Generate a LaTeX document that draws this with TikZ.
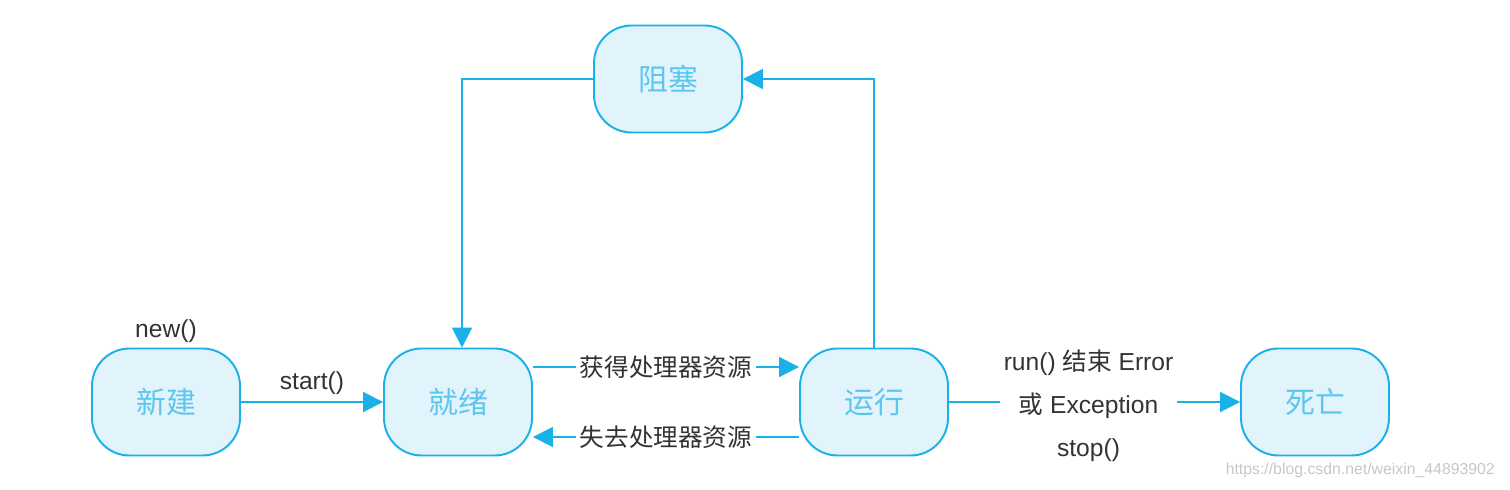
\documentclass[tikz,border=0pt]{standalone}
\usepackage{fontspec}
\setmainfont{Liberation Sans}
\newfontfamily\cjk{Noto Sans CJK SC}
\usetikzlibrary{arrows.meta}
\definecolor{stline}{HTML}{1AB0E8}
\definecolor{stfill}{HTML}{E1F3FB}
\definecolor{sttext}{HTML}{5CC6EF}
\definecolor{lbtext}{HTML}{333333}

\begin{document}
\begin{tikzpicture}[
  state/.style={draw=stline,fill=stfill,line width=1.1pt,rounded corners=.75cm,minimum width=2.96cm,minimum height=2.14cm,text=sttext,font=\cjk\fontsize{17}{20}\selectfont},
  trans/.style={draw=stline,line width=1.1pt,-{Triangle[length=.4cm,width=.4cm]}},
  lab/.style={text=lbtext,font=\fontsize{14}{24.5}\selectfont,fill=white,inner sep=2pt}]
\useasboundingbox (0,0) rectangle (30.2,9.78);
\node[state] (xj) at (3.32,1.74) {新建}; \node[state] (jx) at (9.16,1.74) {就绪};
\node[state] (yx) at (17.48,1.74) {运行}; \node[state] (sw) at (26.3,1.74) {死亡};
\node[state] (zs) at (13.36,8.2) {阻塞};
\node[lab,above=.03cm] (nw) at (xj.north) {new()};
\draw[trans] (xj) -- node[lab,above=.05cm] {start()} (jx);
\draw[trans] ([yshift=.7cm]jx.east) -- node[lab] {\cjk 获得处理器资源} ([yshift=.7cm]yx.west);
\draw[trans] ([yshift=-.7cm]yx.west) -- node[lab] {\cjk 失去处理器资源} ([yshift=-.7cm]jx.east);
\draw[trans] (zs.west) -| ([xshift=.08cm]jx.north); \draw[trans] (yx.north) |- (zs.east);
\draw[trans] (yx) -- node[lab,align=center,xshift=-.12cm,yshift=-.08cm] {run() {\cjk 结束} Error\\{\cjk 或} Exception\\stop()} (sw);
\node[text=black!22,font=\fontsize{9}{11}\selectfont,anchor=east] (wm) at (30.02,.38) {https://blog.csdn.net/weixin\_44893902};
\end{tikzpicture}
\end{document}
